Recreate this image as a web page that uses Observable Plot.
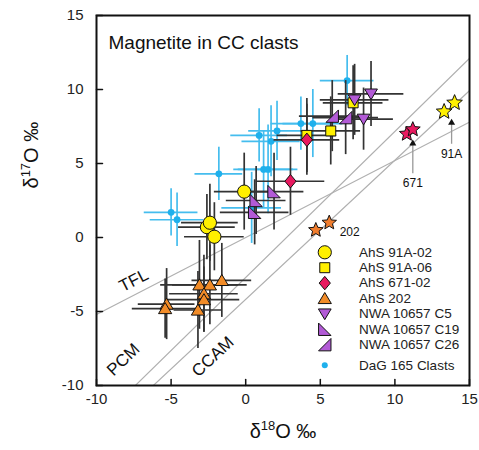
<!DOCTYPE html>
<html><head><meta charset="utf-8">
<script src="https://cdn.jsdelivr.net/npm/d3@7"></script>
<script src="https://cdn.jsdelivr.net/npm/@observablehq/plot@0.6"></script>
<style>body{margin:0;background:#fff;}</style>
</head><body><div id="chart"></div>
<script>
// ---- data: [δ18O, δ17O, ±δ18O, ±δ17O] ----
const xTicks = [-10, -5, 0, 5, 10, 15];
const yTicks = [-10, -5, 0, 5, 10, 15];

const ahs91A02 = [[-0.1, 3.1, 2.0, 2.6], [-2.6, 0.7, 1.9, 2.2], [-2.4, 1.0, 1.9, 2.6], [-2.1, 0.05, 2.0, 2.3]];
const ahs91A06 = [[4.1, 6.9, 2.0, 2.5], [5.7, 7.2, 2.0, 2.3], [7.2, 9.1, 2.0, 2.5]];
const ahs67102 = [[4.1, 6.6, 2.2, 2.4], [3.0, 3.8, 2.3, 2.3]];
const ahs202 = [[-3.1, -3.2, 2.6, 3.0], [-2.4, -3.2, 2.5, 2.7], [-1.6, -2.9, 2.0, 2.5], [-2.8, -3.8, 2.3, 2.6],
                [-2.8, -4.2, 2.4, 2.2], [-5.3, -4.5, 1.9, 2.4], [-5.4, -4.8, 2.2, 2.0], [-3.2, -4.9, 1.6, 2.6]];
const nwaC5 = [[7.3, 9.3, 2.3, 2.4], [8.4, 9.7, 2.2, 2.2], [7.9, 8.0, 2.0, 2.1]];
const nwaC19 = [[0.7, 2.5, 2.0, 2.3], [0.6, 1.7, 2.3, 2.2], [1.9, 3.1, 2.0, 2.6]];
const nwaC26 = [[5.8, 8.2, 2.2, 2.4], [6.7, 8.1, 2.2, 2.5]];
const dag165 = [[6.8, 10.6, 1.8, 1.7], [3.7, 7.7, 2.0, 1.8], [4.5, 7.7, 2.0, 2.3], [2.1, 7.2, 1.9, 2.0],
                [0.9, 6.9, 1.9, 1.8], [1.7, 6.5, 1.95, 2.4], [-1.8, 4.3, 1.6, 1.8], [1.2, 4.6, 2.0, 2.6],
                [1.5, 4.6, 2.0, 3.0], [-5.0, 1.7, 1.8, 1.6], [-4.6, 1.2, 1.8, 1.8], [0.4, 2.0, 2.0, 2.4]];
// bulk (stars)
const bulk91A = [[13.3, 8.5], [14.0, 9.1]];
const bulk671 = [[10.8, 7.0], [11.2, 7.3]];
const bulk202 = [[4.7, 0.5], [5.6, 1.0]];
// reference lines: [name, slope, intercept]
const refLines = [["TFL", 0.52, 0], ["PCM", 0.987, -2.70], ["CCAM", 0.94, -4.18]];
const lineLabels = ["TFL", "PCM", "CCAM"];
const lineLabelX = [-7.5, -8.2, -2.2];
const lineLabelY = [-2.9, -8.25, -8.05];
const lineLabelAngle = [-27, -44, -43];
// annotations
const noteLabels = ["91A", "671"];
const noteX = [13.8, 11.2];
const noteTipY = [7.8, 6.4];
const noteBaseY = [6.3, 4.3];
const noteTextY = [5.65, 3.65];
const xLabel = "δ18O ‰", yLabel = "δ17O ‰";

// ---- symbols ----
function poly(pts) {
  return {draw(ctx, size) {
    const r = Math.sqrt(size / Math.PI);
    pts.forEach(([a, b], i) => i ? ctx.lineTo(a * r, b * r) : ctx.moveTo(a * r, b * r));
    ctx.closePath();
  }};
}
const symCircle = {draw(ctx, size) { const r = Math.sqrt(size / Math.PI); ctx.moveTo(r, 0); ctx.arc(0, 0, r, 0, 2 * Math.PI); }};
const symSquare = poly([[-1, -1], [1, -1], [1, 1], [-1, 1]]);
const symDiamond = poly([[0, -1.2], [1, 0], [0, 1.2], [-1, 0]]);
const symTriUp = poly([[0, -1], [1.1, 0.85], [-1.1, 0.85]]);
const symTriDown = poly([[0, 1], [1.1, -0.85], [-1.1, -0.85]]);
const symC19 = poly([[-1, -1], [1, 1], [-1, 1]]);
const symC26 = poly([[1, -1], [1, 1], [-1, 1]]);
const symStar = poly(d3.range(10).map(i => {
  const a = -Math.PI / 2 + i * Math.PI / 5, rr = i % 2 ? 0.45 : 1;
  return [rr * Math.cos(a), rr * Math.sin(a)];
}));
const tickShape = {draw(ctx, l) { ctx.moveTo(0, 0); ctx.lineTo(0, -l); }};

const series = [
  {key: "AhS 91A-02", data: ahs91A02, symbol: symCircle, fill: "#fff000", r: 6.6},
  {key: "AhS 91A-06", data: ahs91A06, symbol: symSquare, fill: "#fff000", r: 5},
  {key: "AhS 671-02", data: ahs67102, symbol: symDiamond, fill: "#e8195f", r: 5.6},
  {key: "AhS 202", data: ahs202, symbol: symTriUp, fill: "#f28c28", r: 6},
  {key: "NWA 10657 C5", data: nwaC5, symbol: symTriDown, fill: "#b25ad6", r: 5.8},
  {key: "NWA 10657 C19", data: nwaC19, symbol: symC19, fill: "#b25ad6", r: 6.2},
  {key: "NWA 10657 C26", data: nwaC26, symbol: symC26, fill: "#b25ad6", r: 6.2}
];
const dagSeries = {key: "DaG 165 Clasts", data: dag165, fill: "#1fb0ec", r: 3.4};
const drawOrder = [0, 1, 2, 3, 5, 6, 4];

const rows = arr => arr.map(([x, y, ex, ey]) => ({x, y, ex, ey}));
const ebars = (data, stroke) => [
  Plot.ruleY(rows(data), {y: "y", x1: d => d.x - d.ex, x2: d => d.x + d.ex, stroke, strokeWidth: 1.7, clip: true}),
  Plot.ruleX(rows(data), {x: "x", y1: d => d.y - d.ey, y2: d => d.y + d.ey, stroke, strokeWidth: 1.7, clip: true})
];

const xDomain = [-10, 15];
const lineData = refLines.flatMap(([name, m, b]) => xDomain.map(x => ({name, x, y: m * x + b})));

// legend layout (data units)
const legendX = 5.3, legendTextX = 7.6, legendTop = -1.0, legendStep = -1.04;
const legendEntries = [...series, dagSeries].map((s, i) => ({...s, ly: legendTop + i * legendStep + (i === series.length ? -0.35 : 0)}));

const fontFamily = '"Liberation Sans", Arial, Helvetica, sans-serif';

const marks = [
  Plot.line(lineData, {x: "x", y: "y", z: "name", stroke: "#b0b0b0", strokeWidth: 1.2, clip: true}),
  Plot.text(lineLabels, {x: (d, i) => lineLabelX[i], y: (d, i) => lineLabelY[i], text: d => d, rotate: (d, i) => lineLabelAngle[i], fontSize: 17, fill: "#111"}),
  ...ebars(dag165, "#45bdee"),
  Plot.dot(rows(dag165), {x: "x", y: "y", r: dagSeries.r, fill: dagSeries.fill, stroke: "none"}),
  ...series.flatMap(s => ebars(s.data, "#333")),
  ...drawOrder.map(i => series[i]).map(s => Plot.dot(rows(s.data), {x: "x", y: "y", symbol: s.symbol, r: s.r, fill: s.fill, stroke: "#111", strokeWidth: 1})),
  // stars
  Plot.dot(rows(bulk91A), {x: "x", y: "y", symbol: symStar, r: 8.2, fill: "#fff000", stroke: "#111", strokeWidth: 1}),
  Plot.dot(rows(bulk671), {x: "x", y: "y", symbol: symStar, r: 7.8, fill: "#e8195f", stroke: "#111", strokeWidth: 1}),
  Plot.dot(rows(bulk202), {x: "x", y: "y", symbol: symStar, r: 7.6, fill: "#f07d2e", stroke: "#111", strokeWidth: 1}),
  // arrows + notes
  Plot.ruleX(noteLabels, {x: (d, i) => noteX[i], y1: (d, i) => noteTipY[i], y2: (d, i) => noteBaseY[i], stroke: "#999", strokeWidth: 1.3}),
  Plot.dot(noteLabels, {x: (d, i) => noteX[i], y: (d, i) => noteTipY[i], symbol: symTriUp, r: 3.2, fill: "#111", stroke: "none"}),
  Plot.text(noteLabels, {x: (d, i) => noteX[i], y: (d, i) => noteTextY[i], text: d => d, fontSize: 12, fill: "#111"}),
  Plot.text(["202"], {x: 6.3, y: 0.35, text: d => d, textAnchor: "start", fontSize: 12, fill: "#111"}),
  // legend
  ...legendEntries.map(s => Plot.dot([s], {x: legendX, y: "ly", symbol: s.symbol || symCircle, r: s.key === dagSeries.key ? 3 : s.r, fill: s.fill, stroke: s.key === dagSeries.key ? "none" : "#111", strokeWidth: 1})),
  Plot.text(legendEntries, {x: legendTextX, y: "ly", text: "key", textAnchor: "start", fontSize: 13.5, fill: "#222"}),
  // title
  Plot.text(["Magnetite in CC clasts"], {frameAnchor: "top-left", dx: 12, dy: 20, lineAnchor: "top", text: d => d, textAnchor: "start", fontSize: 19, fill: "#111"}),
  // axes (inward ticks)
  Plot.vector(xTicks, {x: d => d, frameAnchor: "bottom", length: 6, rotate: 0, anchor: "start", shape: tickShape, stroke: "#111", strokeWidth: 1.5}),
  Plot.vector(yTicks, {y: d => d, frameAnchor: "left", length: 6, rotate: 90, anchor: "start", shape: tickShape, stroke: "#111", strokeWidth: 1.5}),
  Plot.text(xTicks, {x: d => d, frameAnchor: "bottom", dy: 18, text: d => String(d), fontSize: 15, fill: "#222"}),
  Plot.text(yTicks, {y: d => d, frameAnchor: "left", dx: -13, textAnchor: "end", text: d => String(d), fontSize: 15, fill: "#222"}),
  Plot.frame({stroke: "#111", strokeWidth: 2}),
  Plot.text([xLabel], {frameAnchor: "bottom", dy: 52, text: d => d, fontSize: 20, fill: "#111"}),
  Plot.text([yLabel], {frameAnchor: "left", dx: -65, dy: -12, rotate: -90, text: d => d, fontSize: 20, fill: "#111"})
];

const svg = Plot.plot({
  width: 479, height: 450,
  marginLeft: 96, marginRight: 10, marginTop: 15, marginBottom: 65,
  x: {domain: xDomain, axis: null},
  y: {domain: [-10, 15], axis: null},
  style: {fontFamily, background: "white", color: "#111", overflow: "visible"},
  marks
});

// render the isotope mass numbers as superscripts
d3.select(svg).selectAll("text").each(function () {
  const t = d3.select(this);
  const s = this.textContent;
  const m = s.match(/^δ(\d+)(O ‰)$/);
  if (!m) return;
  t.text(null);
  t.append("tspan").text("δ");
  t.append("tspan").attr("font-size", 13).attr("dy", -8).text(m[1]);
  t.append("tspan").attr("dy", 8).text(m[2]);
});

document.getElementById("chart").appendChild(svg);
</script>
</body></html>
